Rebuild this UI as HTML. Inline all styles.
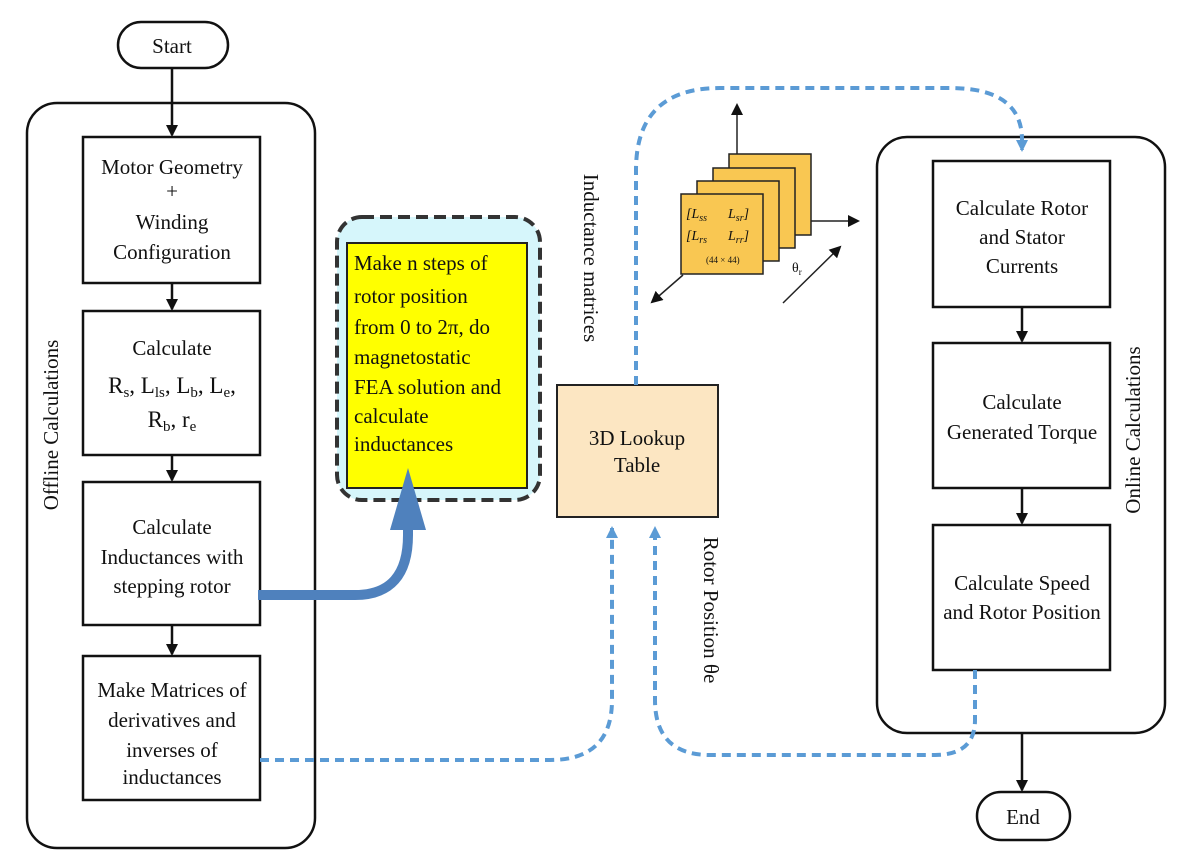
<!DOCTYPE html>
<html><head><style>body{margin:0;background:#fff}svg{display:block}text{font-family:"Liberation Serif",serif;fill:#111}</style></head><body>
<svg width="1181" height="868" viewBox="0 0 1181 868" xmlns="http://www.w3.org/2000/svg">
<defs>
<marker id="ak" markerWidth="12" markerHeight="12" refX="10" refY="6" orient="auto" markerUnits="userSpaceOnUse"><path d="M0,0 L12,6 L0,12 z" fill="#111"/></marker>
<marker id="ab" markerWidth="12" markerHeight="12" refX="10" refY="6" orient="auto" markerUnits="userSpaceOnUse"><path d="M0,0 L12,6 L0,12 z" fill="#5b9bd5"/></marker>
</defs>
<g stroke="#111" stroke-width="2.5" fill="none">
<rect x="118" y="22" width="110" height="46" rx="23" fill="#fff"/>
<rect x="27" y="103" width="288" height="745" rx="30"/>
<rect x="877" y="137" width="288" height="596" rx="30"/>
<rect x="83" y="137" width="177" height="146" fill="#fff"/>
<rect x="83" y="311" width="177" height="144" fill="#fff"/>
<rect x="83" y="482" width="177" height="143" fill="#fff"/>
<rect x="83" y="656" width="177" height="144" fill="#fff"/>
<rect x="933" y="161" width="177" height="146" fill="#fff"/>
<rect x="933" y="343" width="177" height="145" fill="#fff"/>
<rect x="933" y="525" width="177" height="145" fill="#fff"/>
<rect x="977" y="792" width="93" height="48" rx="24" fill="#fff"/>
<line x1="172" y1="68" x2="172" y2="135" marker-end="url(#ak)"/>
<line x1="172" y1="283" x2="172" y2="309" marker-end="url(#ak)"/>
<line x1="172" y1="455" x2="172" y2="480" marker-end="url(#ak)"/>
<line x1="172" y1="625" x2="172" y2="654" marker-end="url(#ak)"/>
<line x1="1022" y1="307" x2="1022" y2="341" marker-end="url(#ak)"/>
<line x1="1022" y1="488" x2="1022" y2="523" marker-end="url(#ak)"/>
<line x1="1022" y1="733" x2="1022" y2="790" marker-end="url(#ak)"/>
</g>
<rect x="337" y="217" width="203" height="283" rx="25" fill="#d6f6fb" stroke="#333" stroke-width="4" stroke-dasharray="12,6"/>
<rect x="347" y="243" width="180" height="245" fill="#ffff00" stroke="#222" stroke-width="2"/>
<rect x="557" y="385" width="161" height="132" fill="#fce6c2" stroke="#222" stroke-width="2"/>
<path d="M258,595 L355,595 Q408,595 408,535 L408,525" stroke="#4f81bd" stroke-width="10" fill="none"/>
<path d="M390,530 L426,530 L408,468 z" fill="#4f81bd"/>
<g stroke="#5b9bd5" stroke-width="4" fill="none" stroke-dasharray="9,6">
<path d="M636,385 L636,170 Q636,88 720,88 L950,88 Q1022,88 1022,140 L1022,150" marker-end="url(#ab)"/>
<path d="M260,760 L550,760 Q612,760 612,700 L612,528" marker-end="url(#ab)"/>
<path d="M975,670 L975,720 Q975,755 935,755 L710,755 Q655,755 655,700 L655,528" marker-end="url(#ab)"/>
</g>
<g stroke="#222" stroke-width="1.5">
<line x1="737" y1="154" x2="737" y2="105" marker-end="url(#ak)"/>
<line x1="811" y1="221" x2="858" y2="221" marker-end="url(#ak)"/>
<line x1="683" y1="275" x2="652" y2="302" marker-end="url(#ak)"/>
<line x1="783" y1="303" x2="840" y2="247" marker-end="url(#ak)"/>
<rect x="729" y="154" width="82" height="81" fill="#f9c752"/>
<rect x="713" y="168" width="82" height="80" fill="#f9c752"/>
<rect x="697" y="181" width="82" height="80" fill="#f9c752"/>
<rect x="681" y="194" width="82" height="80" fill="#f9c752"/>
</g>
<g font-style="italic" font-size="14">
<text x="686" y="218">[L<tspan font-size="10" dy="3">ss</tspan></text>
<text x="728" y="218">L<tspan font-size="10" dy="3">sr</tspan><tspan dy="-3">]</tspan></text>
<text x="686" y="240">[L<tspan font-size="10" dy="3">rs</tspan></text>
<text x="728" y="240">L<tspan font-size="10" dy="3">rr</tspan><tspan dy="-3">]</tspan></text>
</g>
<text x="706" y="263" font-size="9" font-family="Liberation Sans,sans-serif">(44 × 44)</text>
<text x="792" y="272" font-size="14">θ<tspan font-size="9" dy="3">r</tspan></text>
<g font-size="21" text-anchor="middle">
<text x="172" y="53">Start</text>
<text x="1023" y="824">End</text>
<text x="172" y="174">Motor Geometry</text>
<text x="172" y="198">+</text>
<text x="172" y="229">Winding</text>
<text x="172" y="259">Configuration</text>
<text x="172" y="355">Calculate</text>
<text x="172" y="393" font-size="23">R<tspan font-size="15" dy="4">s</tspan><tspan dy="-4">, L</tspan><tspan font-size="15" dy="4">ls</tspan><tspan dy="-4">, L</tspan><tspan font-size="15" dy="4">b</tspan><tspan dy="-4">, L</tspan><tspan font-size="15" dy="4">e</tspan><tspan dy="-4">,</tspan></text>
<text x="172" y="427" font-size="23">R<tspan font-size="15" dy="4">b</tspan><tspan dy="-4">, r</tspan><tspan font-size="15" dy="4">e</tspan></text>
<text x="172" y="534">Calculate</text>
<text x="172" y="564">Inductances with</text>
<text x="172" y="593">stepping rotor</text>
<text x="172" y="697">Make Matrices of</text>
<text x="172" y="727">derivatives and</text>
<text x="172" y="757">inverses of</text>
<text x="172" y="784">inductances</text>
<text x="637" y="445">3D Lookup</text>
<text x="637" y="472">Table</text>
<text x="1022" y="215">Calculate Rotor</text>
<text x="1022" y="244">and Stator</text>
<text x="1022" y="273">Currents</text>
<text x="1022" y="409">Calculate</text>
<text x="1022" y="439">Generated Torque</text>
<text x="1022" y="590">Calculate Speed</text>
<text x="1022" y="619">and Rotor Position</text>
</g>
<g font-size="21">
<text x="354" y="270">Make n steps of</text>
<text x="354" y="303">rotor position</text>
<text x="354" y="334">from 0 to 2π, do</text>
<text x="354" y="364">magnetostatic</text>
<text x="354" y="394">FEA solution and</text>
<text x="354" y="423">calculate</text>
<text x="354" y="451">inductances</text>
</g>
<g font-size="21" text-anchor="middle">
<text transform="translate(58,425) rotate(-90)">Offline Calculations</text>
<text transform="translate(1140,430) rotate(-90)">Online Calculations</text>
<text transform="translate(584,258) rotate(90)">Inductance matrices</text>
<text transform="translate(704,610) rotate(90)">Rotor Position θe</text>
</g>
</svg>
</body></html>
